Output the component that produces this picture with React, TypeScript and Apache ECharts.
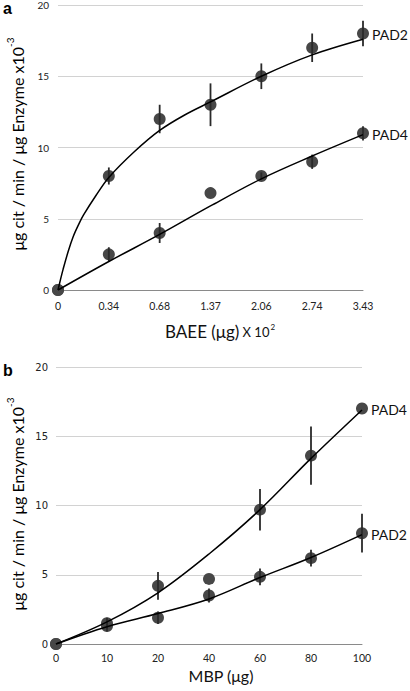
import React, { useEffect, useRef } from 'react';
import * as echarts from 'echarts';

// ---- Panel a (BAEE) ----
const topTickLabels = ['0', '0.34', '0.68', '1.37', '2.06', '2.74', '3.43'];
const topPad2 = [0, 8, 12, 13, 15, 17, 18];
const topPad2Err = [0, 0.6, 1.0, 1.5, 0.9, 1.0, 0.9];
const topPad4 = [0, 2.5, 4, 6.8, 8, 9, 11];
const topPad4Err = [0, 0.5, 0.7, 0, 0.25, 0.5, 0.5];
const topPad2Fit: number[][] = [
  [0, 0], [0.05, 0.75], [0.1, 1.45], [0.2, 2.7], [0.3, 3.75], [0.4, 4.55], [0.5, 5.25],
  [0.75, 6.65], [1, 7.9], [1.5, 9.7], [2, 11.2], [2.5, 12.3], [3, 13.2], [4, 15.0],
  [5, 16.5], [6, 17.6],
];
const topPad4Fit: number[][] = [
  [0, 0], [1, 2.0], [2, 3.9], [3, 5.9], [4, 7.8], [5, 9.4], [6, 10.9],
];

// ---- Panel b (MBP) ----
const botTickLabels = ['0', '10', '20', '40', '60', '80', '100'];
const botPad4 = [0, 1.5, 4.2, 4.7, 9.7, 13.6, 17];
const botPad4Err = [0, 0.4, 1.0, 0, 1.5, 2.1, 0];
const botPad2 = [0, 1.3, 1.9, 3.5, 4.85, 6.2, 8.0];
const botPad2Err = [0, 0.4, 0.45, 0.5, 0.6, 0.6, 1.4];
const botPad4Fit: number[][] = [
  [0, 0], [1, 1.6], [2, 3.7], [3, 6.5], [4, 9.7], [5, 13.4], [6, 16.9],
];
const botPad2Fit: number[][] = [
  [0, 0], [1, 1.25], [2, 2.2], [3, 3.25], [4, 4.8], [5, 6.25], [6, 7.9],
];

const yTicks = { min: 0, max: 20, interval: 5 };

const DOT = '#474747';

function pointsSeries(vals: number[], name: string, grid: number, label: string) {
  const last = vals.length - 1;
  return {
    type: 'scatter',
    name,
    xAxisIndex: grid,
    yAxisIndex: grid,
    symbolSize: 12,
    itemStyle: { color: DOT, opacity: 1 },
    z: 3,
    data: vals.map((v, i) =>
      i === last
        ? {
            value: [i, v],
            label: {
              show: true,
              position: 'right',
              distance: 3,
              formatter: label,
              fontFamily: 'Lato',
              fontSize: 14,
              color: '#111',
              offset: [0, 1],
            },
          }
        : [i, v]
    ),
  };
}

function errSeries(vals: number[], errs: number[], grid: number) {
  return {
    type: 'custom',
    xAxisIndex: grid,
    yAxisIndex: grid,
    z: 4,
    data: vals.map((v, i) => [i, v, errs[i]]),
    renderItem: (_p: any, api: any) => {
      const x = api.value(0);
      const y = api.value(1);
      const e = api.value(2);
      if (!e) return null;
      const a = api.coord([x, y + e]);
      const b = api.coord([x, y - e]);
      return {
        type: 'line',
        shape: { x1: a[0], y1: a[1], x2: b[0], y2: b[1] },
        style: { stroke: '#2a2a2a', lineWidth: 1.8 },
      };
    },
  };
}

function fitSeries(pts: number[][], grid: number) {
  return {
    type: 'line',
    xAxisIndex: grid,
    yAxisIndex: grid,
    data: pts,
    smooth: 0.35,
    showSymbol: false,
    symbol: 'none',
    lineStyle: { color: '#000', width: 1.5 },
    z: 5,
  };
}

function xAxis(grid: number, labels: string[], margin: number) {
  return {
    type: 'value',
    gridIndex: grid,
    min: 0,
    max: 6,
    interval: 1,
    axisLine: { show: true, lineStyle: { color: '#8a8a8a', width: 1 } },
    axisTick: { show: false },
    splitLine: { show: false },
    axisLabel: {
      formatter: (v: number) => labels[v] ?? '',
      fontFamily: 'Lato',
      fontSize: 10.5,
      color: '#222',
      margin,
    },
  };
}

function yAxis(grid: number, font: string, margin: number) {
  return {
    type: 'value',
    gridIndex: grid,
    ...yTicks,
    axisLine: { show: false },
    axisTick: { show: false },
    splitLine: { show: true, lineStyle: { color: '#d2d2d2', width: 1 } },
    axisLabel: { fontFamily: font, fontSize: 10, color: '#222', margin },
  };
}

function yTitle(cx: number, cy: number) {
  return {
    type: 'text',
    x: cx,
    y: cy,
    rotation: Math.PI / 2,
    style: {
      text: '{a|μg cit / min / μg Enzyme x10}{s|-3}',
      align: 'center',
      verticalAlign: 'middle',
      rich: {
        a: { fontFamily: 'Lato', fontSize: 16, color: '#111', lineHeight: 20, verticalAlign: 'bottom' },
        s: { fontFamily: 'Lato', fontSize: 10, color: '#111', lineHeight: 20, verticalAlign: 'top' },
      },
    },
  };
}

export default function App() {
  const ref = useRef<HTMLDivElement>(null);
  useEffect(() => {
    if (!ref.current) return;
    const chart = echarts.init(ref.current, undefined, { renderer: 'svg' });
    chart.setOption({
      animation: false,
      backgroundColor: '#fff',
      grid: [
        { left: 58, right: 47, top: 5, height: 285 },
        { left: 56, right: 48, top: 367, height: 277 },
      ],
      xAxis: [xAxis(0, topTickLabels, 10), xAxis(1, botTickLabels, 8)],
      yAxis: [yAxis(0, 'Lato', 9), yAxis(1, 'DejaVu Sans', 8)],
      series: [
        pointsSeries(topPad2, 'PAD2', 0, 'PAD2'),
        pointsSeries(topPad4, 'PAD4', 0, 'PAD4'),
        errSeries(topPad2, topPad2Err, 0),
        errSeries(topPad4, topPad4Err, 0),
        fitSeries(topPad2Fit, 0),
        fitSeries(topPad4Fit, 0),
        pointsSeries(botPad4, 'PAD4', 1, 'PAD4'),
        pointsSeries(botPad2, 'PAD2', 1, 'PAD2'),
        errSeries(botPad4, botPad4Err, 1),
        errSeries(botPad2, botPad2Err, 1),
        fitSeries(botPad4Fit, 1),
        fitSeries(botPad2Fit, 1),
      ],
      graphic: [
        {
          type: 'text',
          left: 3,
          top: 0,
          style: { text: 'a', fontFamily: 'Liberation Sans', fontWeight: 'bold', fontSize: 16, fill: '#000' },
        },
        {
          type: 'text',
          left: 3,
          top: 362,
          style: { text: 'b', fontFamily: 'Liberation Sans', fontWeight: 'bold', fontSize: 16, fill: '#000' },
        },
        yTitle(15, 144),
        yTitle(15, 504),
        {
          type: 'text',
          x: 165,
          y: 330,
          style: {
            text: '{a|BAEE (μg)} {b|X 10}{s|2}',
            verticalAlign: 'middle',
            rich: {
              a: { fontFamily: 'Lato', fontSize: 17, fill: '#111', lineHeight: 20, verticalAlign: 'bottom' },
              b: { fontFamily: 'Lato', fontSize: 13, fill: '#111', lineHeight: 20, verticalAlign: 'bottom', padding: [0, 0, 2, 0] },
              s: { fontFamily: 'Lato', fontSize: 8, fill: '#111', lineHeight: 20, verticalAlign: 'top', padding: [3, 0, 0, 1] },
            },
          },
        },
        {
          type: 'text',
          x: 221,
          y: 675,
          style: {
            text: 'MBP (μg)',
            align: 'center',
            verticalAlign: 'middle',
            fontFamily: 'Lato',
            fontSize: 16,
            fill: '#111',
          },
        },
      ],
    });
    return () => chart.dispose();
  }, []);
  return (
    <div
      ref={ref}
      style={{ position: 'absolute', left: 0, top: 0, width: 410, height: 691, background: '#fff' }}
    />
  );
}
